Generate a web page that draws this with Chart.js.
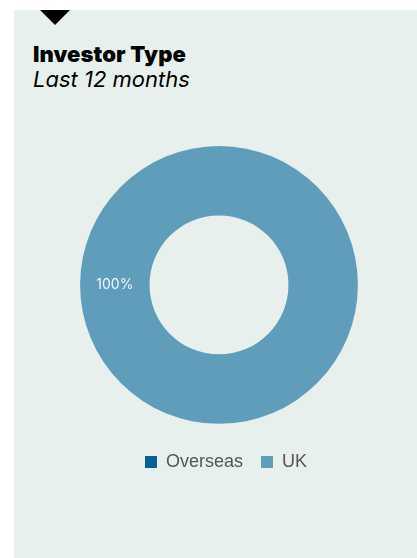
<!DOCTYPE html>
<html>
<head>
<meta charset="utf-8">
<script src="https://cdn.jsdelivr.net/npm/chart.js@4.4.1/dist/chart.umd.min.js"></script>
<style>
    html, body { margin: 0; padding: 0; background: #ffffff; }
    body { width: 417px; height: 558px; position: relative; overflow: hidden; }
    .panel {
        position: absolute; left: 14px; top: 10px; width: 403px; height: 548px;
        background: #e8f0ee;
    }
    .marker {
        position: absolute; left: 26px; top: 0;
        width: 0; height: 0;
        border-left: 15px solid transparent;
        border-right: 15px solid transparent;
        border-top: 15px solid #000;
    }
    .title {
        position: absolute; left: 19px; top: 32px;
        font-family: Inter, sans-serif; font-weight: 900; font-size: 22px;
        color: #000; letter-spacing: 0.1px; line-height: 25px;
    }
    .subtitle {
        position: absolute; left: 19px; top: 57px;
        font-family: Inter, sans-serif; font-style: italic; font-size: 22px;
        color: #000; letter-spacing: 0; line-height: 25px;
    }
    .chart-box { position: absolute; left: 7px; top: 126px; width: 396px; height: 345px; }
</style>
</head>
<body>
<div class="panel">
    <div class="marker"></div>
    <div class="title">Investor Type</div>
    <div class="subtitle">Last 12 months</div>
    <div class="chart-box"><canvas id="investorChart"></canvas></div>
</div>
<script>
// Share of investors by type over the last 12 months (%)
const investorLabels = ['Overseas', 'UK'];
const investorShares = [0, 100];
const investorColors = ['#0b5f97', '#5f9dbb'];

// Writes the percentage in the middle of each non-empty ring segment
const sliceLabels = {
    id: 'sliceLabels',
    afterDatasetsDraw(chart) {
        const ctx = chart.ctx;
        const meta = chart.getDatasetMeta(0);
        ctx.save();
        ctx.font = '14px Inter, "Liberation Sans", Arial, sans-serif';
        ctx.fillStyle = 'rgba(255,255,255,0.92)';
        ctx.textAlign = 'center';
        ctx.textBaseline = 'middle';
        meta.data.forEach(function(arc, i) {
            const value = investorShares[i];
            if (!value) return;
            const p = arc.getProps(['x', 'y', 'startAngle', 'endAngle', 'innerRadius', 'outerRadius'], true);
            const mid = (p.startAngle + p.endAngle) / 2;
            const r = (p.innerRadius + p.outerRadius) / 2;
            ctx.fillText(value + '%', p.x + Math.cos(mid) * r, p.y + Math.sin(mid) * r);
        });
        ctx.restore();
    }
};

// Nudges the legend row a little to the right of the ring's centre line
const legendNudge = {
    id: 'legendNudge',
    afterLayout(chart) {
        if (!chart.legend) return;
        chart.legend.left += 7;
        chart.legend.right += 7;
    }
};

new Chart(document.getElementById('investorChart'), {
    type: 'doughnut',
    data: {
        labels: investorLabels,
        datasets: [{
            data: investorShares,
            backgroundColor: investorColors,
            borderWidth: 0
        }]
    },
    options: {
        responsive: true,
        maintainAspectRatio: false,
        animation: false,
        rotation: 90,
        cutout: '50%',
        layout: { padding: { top: 10, bottom: 0 } },
        plugins: {
            legend: {
                position: 'bottom',
                // empty title only used as a spacer above the legend items
                title: { display: true, text: '', font: { size: 1 }, padding: { top: 0, bottom: 10 } },
                labels: {
                    boxWidth: 12,
                    boxHeight: 12,
                    padding: 18,
                    color: '#555555',
                    font: { family: '"Liberation Sans", Arial, sans-serif', size: 18 }
                }
            },
            tooltip: { enabled: false }
        }
    },
    plugins: [sliceLabels, legendNudge]
});
</script>
</body>
</html>
